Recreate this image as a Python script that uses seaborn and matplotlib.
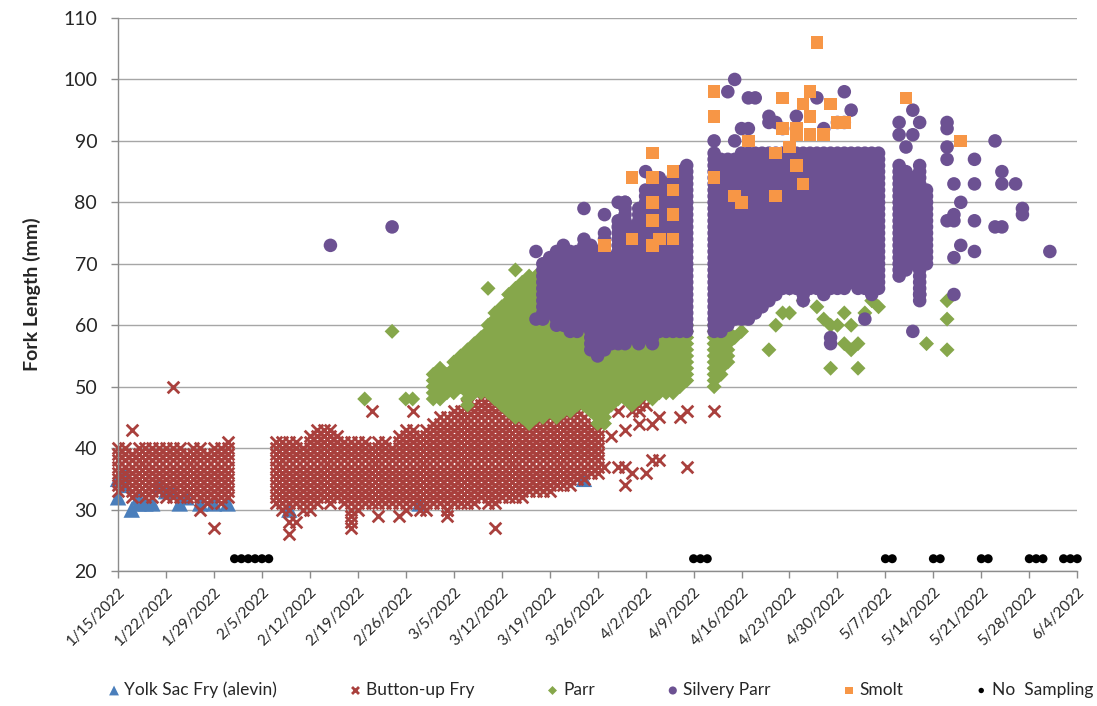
import numpy as np
import pandas as pd
import matplotlib.pyplot as plt
import seaborn as sns

sns.set_style('white')
plt.rcParams['font.family'] = ['Lato', 'DejaVu Sans']

start = pd.Timestamp('2022-01-15')

# days are counted from 1/15/2022, lengths are fork length in mm
# dense columns: on that day every mm between lo and hi was caught

# yolk sac fry (alevin), single fish
yolk_day = [0, 0, 1, 1, 2, 3, 3, 4, 5, 6, 7, 8, 9, 10, 12, 14, 16, 25, 44, 68]
yolk_len = [32, 35, 36, 34, 30, 32, 31, 31, 31, 34, 33, 33, 31, 32, 31, 31, 31, 30, 31, 35]

# button-up fry
bfry_day = [0, 1, 2, 3, 4, 5, 6, 7, 8, 9, 10, 11, 12, 13, 14, 15, 16,
            23, 24, 25, 26, 27, 28, 29, 30, 31, 32, 33, 34, 35, 36, 37, 38, 39, 40,
            41, 42, 43, 44, 45, 46, 47, 48, 49, 50, 51, 52, 53, 54, 55, 56, 57, 58,
            59, 60, 61, 62, 63, 64, 65, 66, 67, 68, 69, 70]
bfry_lo = [33, 34, 32, 33, 32, 32, 33, 32, 32, 32, 32, 32, 32, 31, 32, 31, 32,
           31, 30, 30, 31, 30, 31, 31, 32, 31, 32, 31, 29, 30, 31, 31, 31, 31, 31,
           31, 30, 31, 31, 30, 31, 31, 30, 31, 31, 31, 31, 32, 31, 31, 32, 32, 32,
           32, 33, 33, 33, 33, 34, 34, 34, 35, 35, 36, 36]
bfry_hi = [40, 40, 39, 40, 40, 40, 40, 40, 40, 40, 39, 40, 40, 39, 40, 40, 41,
           41, 41, 41, 41, 40, 42, 43, 43, 43, 42, 41, 41, 41, 41, 40, 41, 41, 40,
           42, 43, 43, 42, 43, 44, 45, 45, 46, 46, 47, 47, 48, 48, 48, 48, 49, 49,
           48, 48, 48, 49, 48, 47, 47, 47, 46, 45, 44, 43]
bfry_xday = [2, 8, 14, 12, 25, 25, 26, 28, 34, 34, 38, 41, 37, 43, 44, 48, 48, 51, 55,
             71, 72, 72, 73, 73, 74, 74, 74, 75, 75, 76, 76, 76, 77, 77, 78, 78, 79, 79,
             82, 83, 83, 87]
bfry_xlen = [43, 50, 27, 30, 28, 26, 28, 30, 27, 28, 29, 29, 46, 46, 30, 29, 30, 50, 27,
             37, 42, 47, 46, 37, 43, 37, 34, 46, 36, 47, 44, 46, 47, 36, 38, 44, 45, 38,
             45, 46, 37, 46]

# parr
parr_day = [46, 47, 48, 49, 50, 51, 52, 53, 54, 55, 56, 57, 58, 59, 60, 61, 62, 63, 64,
            65, 66, 67, 68, 69, 70, 71, 72, 73, 74, 75, 76, 77, 78, 79, 80, 81, 82, 83,
            87, 88, 89]
parr_lo = [48, 48, 49, 49, 50, 47, 49, 49, 49, 48, 47, 46, 45, 45, 44, 45, 45, 46, 45,
           46, 46, 47, 47, 46, 44, 44, 47, 48, 48, 47, 48, 49, 48, 49, 49, 49, 50, 51,
           50, 52, 54]
parr_hi = [52, 53, 52, 54, 55, 56, 57, 58, 60, 62, 63, 65, 66, 67, 68, 68, 69, 69, 68,
           68, 68, 67, 66, 66, 65, 64, 64, 64, 63, 63, 63, 62, 62, 62, 61, 61, 61, 60,
           60, 60, 60]
parr_xday = [36, 40, 42, 43, 54, 58, 90, 91, 92, 95, 96, 97, 98, 98, 100, 102, 103, 104,
             104, 105, 106, 106, 107, 107, 108, 108, 109, 110, 111, 118, 121, 121, 121]
parr_xlen = [48, 59, 48, 48, 66, 69, 58, 59, 62, 56, 60, 62, 62, 66, 64, 63, 61, 60,
             53, 60, 62, 57, 60, 56, 53, 57, 62, 64, 63, 57, 64, 61, 56]

# silvery parr
sp_day = [62, 63, 64, 65, 66, 67, 68, 69, 70, 71, 72, 73, 74, 75, 76, 77, 78, 79, 80,
          81, 82, 83, 87, 88, 89, 90, 91, 92, 93, 94, 95, 96, 97, 98, 99, 100, 101,
          102, 103, 104, 105, 106, 107, 108, 109, 110, 111, 114, 115, 116, 117, 118]
sp_lo = [61, 62, 60, 60, 59, 59, 60, 56, 55, 56, 57, 57, 57, 58, 57, 58, 57, 59, 59,
         59, 59, 59, 59, 59, 60, 61, 61, 61, 62, 63, 64, 65, 66, 66, 66, 64, 66,
         66, 65, 66, 66, 66, 67, 66, 66, 65, 66, 68, 69, 70, 64, 70]
sp_hi = [70, 71, 72, 73, 72, 72, 74, 73, 72, 75, 71, 77, 80, 76, 79, 82, 82, 84, 83,
         84, 85, 86, 88, 87, 87, 87, 88, 88, 88, 88, 88, 88, 88, 88, 88, 88, 88,
         88, 88, 88, 88, 88, 88, 88, 88, 88, 88, 86, 85, 84, 86, 82]
sp_xday = [31, 40, 61, 61, 68, 71, 73, 74, 77, 78, 87, 89, 90, 90, 91, 92, 92, 93, 95,
           95, 96, 97, 99, 102, 103, 105, 106, 106, 107, 104, 104, 109,
           114, 114, 115, 116, 116, 116, 117, 117, 121, 121, 121, 121, 122, 123, 121,
           122, 122, 123, 122, 122, 125, 125, 125, 125, 128, 129, 129, 131, 132, 132,
           128, 129, 136]
sp_xlen = [73, 76, 72, 61, 79, 78, 80, 80, 85, 84, 90, 98, 100, 90, 92, 92, 97, 97, 94,
           93, 93, 92, 94, 97, 92, 93, 98, 93, 95, 58, 57, 61,
           93, 91, 89, 95, 91, 59, 93, 65, 93, 92, 89, 87, 83, 80, 77,
           77, 78, 73, 71, 65, 87, 83, 77, 72, 90, 85, 83, 83, 79, 78,
           76, 76, 72]

# smolt
smolt_day = [71, 75, 75, 78, 78, 78, 78, 78, 79, 81, 81, 81, 81, 87, 87, 87, 90, 91,
             92, 96, 96, 97, 97, 98, 99, 99, 99, 100, 100, 101, 101, 101, 102, 104,
             105, 103, 106, 115, 123]
smolt_len = [73, 84, 74, 88, 84, 80, 77, 73, 74, 85, 82, 78, 74, 98, 94, 84, 81, 80,
             90, 81, 88, 97, 92, 89, 92, 91, 86, 83, 96, 98, 94, 91, 106, 96,
             93, 91, 93, 97, 90]

# days with no sampling
nosamp_day = [17, 18, 19, 20, 21, 22, 84, 85, 86, 112, 113, 119, 120, 126, 127,
              133, 134, 135, 138, 139, 140]
nosamp_len = [22] * len(nosamp_day)


def to_df(days, lens):
    return pd.DataFrame({'date': start + pd.to_timedelta(days, unit='D'), 'length': lens})


def stack(days, lo, hi, xday, xlen):
    d, v = [], []
    for day, a, b in zip(days, lo, hi):
        d += [day] * (b - a + 1)
        v += list(range(a, b + 1))
    return to_df(d + xday, v + xlen)


series = [
    ('Yolk Sac Fry (alevin)', to_df(yolk_day, yolk_len), '^', '#4A7EBB', 140),
    ('Button-up Fry', stack(bfry_day, bfry_lo, bfry_hi, bfry_xday, bfry_xlen), 'x', '#A9403D', 70),
    ('Parr', stack(parr_day, parr_lo, parr_hi, parr_xday, parr_xlen), 'D', '#86A74B', 58),
    ('Silvery Parr', stack(sp_day, sp_lo, sp_hi, sp_xday, sp_xlen), 'o', '#6C5192', 95),
    ('Smolt', to_df(smolt_day, smolt_len), 's', '#F79646', 82),
    ('No  Sampling', to_df(nosamp_day, nosamp_len), 'o', 'black', 42),
]

fig, ax = plt.subplots(figsize=(10.97, 7.06), dpi=100)
fig.subplots_adjust(left=0.1076, right=0.982, bottom=0.1912, top=0.9745)

for name, df, marker, color, size in series:
    if marker == 'x':
        sns.scatterplot(data=df, x='date', y='length', ax=ax, marker='x', color=color,
                        s=size, linewidth=2, label=name, clip_on=False)
    else:
        sns.scatterplot(data=df, x='date', y='length', ax=ax, marker=marker, color=color,
                        s=size, linewidth=0, edgecolor='none', label=name, clip_on=False)

handles, labels = ax.get_legend_handles_labels()
if ax.get_legend() is not None:
    ax.get_legend().remove()

# axes look
ax.set_ylim(20, 110)
ax.set_yticks(np.arange(20, 111, 10))
ax.set_xlim(start, start + pd.Timedelta(days=140))
ticks = pd.date_range(start, start + pd.Timedelta(days=140), freq='7D')
ax.set_xticks(ticks)
ax.set_xticklabels([f'{t.month}/{t.day}/{t.year}' for t in ticks], rotation=45,
                   ha='right', rotation_mode='anchor', fontsize=11)
ax.tick_params(axis='both', bottom=True, left=True, direction='out', length=5,
               width=1, color='#8C8C8C')
ax.tick_params(axis='y', labelsize=14, pad=10)
ax.tick_params(axis='x', pad=5)
ax.yaxis.grid(True, color='#A6A6A6', linewidth=1)
ax.set_axisbelow(True)
for side in ['top', 'right']:
    ax.spines[side].set_visible(False)
for side in ['left', 'bottom']:
    ax.spines[side].set_color('#8C8C8C')
    ax.spines[side].set_linewidth(1)
ax.set_xlabel('')
ax.set_ylabel('Fork Length (mm)', fontsize=14, fontweight='bold', labelpad=16)

fig.legend(handles, labels, loc='center', bbox_to_anchor=(0.547, 0.023), ncol=6,
           frameon=False, fontsize=12.5, markerscale=0.6, handlelength=0.8,
           handletextpad=0.2, columnspacing=4.1)

plt.savefig('out.png', dpi=100)
plt.close()
